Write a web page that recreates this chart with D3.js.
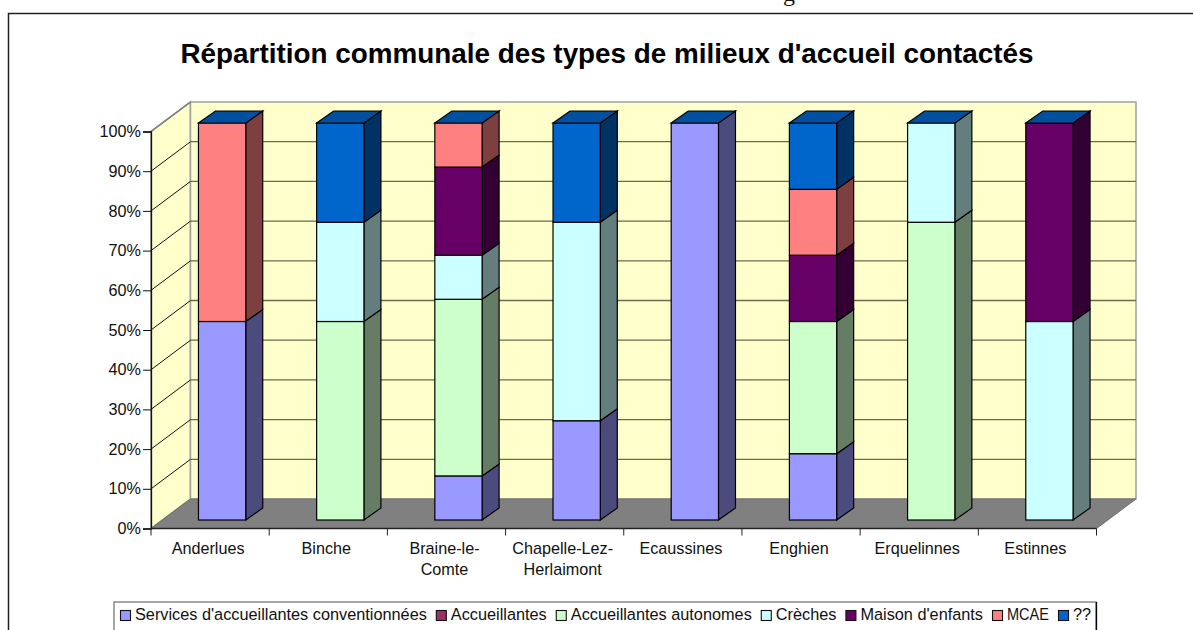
<!DOCTYPE html>
<html>
<head>
<meta charset="utf-8">
<script src="https://cdn.jsdelivr.net/npm/d3@7"></script>
<style>
  html, body { margin: 0; padding: 0; background: #fff; overflow: hidden; }
  text { font-family: "Liberation Sans", Arial, sans-serif; fill: #111; }
</style>
</head>
<body>
<div id="chart"></div>
<script>
var communes = ["Anderlues", "Binche", "Braine-le-Comte", "Chapelle-Lez-Herlaimont", "Ecaussines", "Enghien", "Erquelinnes", "Estinnes"];
var labelLines = [["Anderlues"], ["Binche"], ["Braine-le-", "Comte"], ["Chapelle-Lez-", "Herlaimont"], ["Ecaussines"], ["Enghien"], ["Erquelinnes"], ["Estinnes"]];

var seriesNames = ["Services d'accueillantes conventionnées", "Accueillantes", "Accueillantes autonomes", "Crèches", "Maison d'enfants", "MCAE", "??"];
var seriesColors = ["#9999FF", "#993366", "#CCFFCC", "#CCFFFF", "#660066", "#FF8080", "#0066CC"];

// percentages, same order as communes
var services     = [50, 0, 11.1, 25, 100, 16.7, 0, 0];
var accueillantes = [0, 0, 0, 0, 0, 0, 0, 0];
var autonomes    = [0, 50, 44.5, 0, 0, 33.3, 75, 0];
var creches      = [0, 25, 11.1, 50, 0, 0, 25, 50];
var maison       = [0, 0, 22.2, 0, 0, 16.7, 0, 50];
var mcae         = [50, 0, 11.1, 0, 0, 16.6, 0, 0];
var inconnu      = [0, 25, 0, 25, 0, 16.7, 0, 0];

var yTicks = [0, 10, 20, 30, 40, 50, 60, 70, 80, 90, 100];

var W = 1193, H = 630;
var allSeries = [services, accueillantes, autonomes, creches, maison, mcae, inconnu];

var table = communes.map(function (c, i) {
    var row = { commune: c };
    seriesNames.forEach(function (s, j) { row[s] = allSeries[j][i]; });
    return row;
});

var svg = d3.select("#chart").append("svg").attr("width", W).attr("height", H);

// frame of the pasted chart, its right and bottom side are cut off
svg.append("path")
    .attr("d", "M8.5," + H + "V13.5H" + W)
    .attr("fill", "none").attr("stroke", "#222").attr("stroke-width", 1.5);

// bit of page text cut off above the chart
svg.append("text").attr("x", 783).attr("y", 1)
    .style("font-family", "'Liberation Serif', serif").style("font-size", "24px")
    .text("g");

svg.append("text")
    .attr("x", 607).attr("y", 63).attr("text-anchor", "middle")
    .style("font-size", "27.85px").style("font-weight", "bold").style("fill", "#000")
    .text("Répartition communale des types de milieux d'accueil contactés");

// scales
var x0 = 151, x1 = 1096.5;
var depthX = 39.5, depthY = 29.5;
var x = d3.scaleBand().domain(communes).range([x0, x1]);
var y = d3.scaleLinear().domain([0, 100]).range([528.5, 131.5]);

// front faces stand a bit inside the depth of the floor
var barX = d3.scaleBand().domain(communes).range([x0 + 12, x1 + 12])
    .paddingInner(0.6).paddingOuter(0.3);
var barDy = 8.5;
var sideX = 17, sideY = 12;

// walls
var line = d3.line();
svg.append("path")
    .attr("d", line([[x0, y(0)], [x0, y(100)], [x0 + depthX, y(100) - depthY], [x0 + depthX, y(0) - depthY]]) + "Z")
    .attr("fill", "#FFFFCC").attr("stroke", "#808080").attr("stroke-width", 1.5);
svg.append("path")
    .attr("d", line([[x0 + depthX, y(0) - depthY], [x0 + depthX, y(100) - depthY], [x1 + depthX, y(100) - depthY], [x1 + depthX, y(0) - depthY]]) + "Z")
    .attr("fill", "#FFFFCC").attr("stroke", "#A0A0A0").attr("stroke-width", 1.5);
svg.append("path")
    .attr("d", line([[x0, y(0)], [x0 + depthX, y(0) - depthY], [x1 + depthX, y(0) - depthY], [x1, y(0)]]) + "Z")
    .attr("fill", "#808080").attr("stroke", "#707070");

// gridlines
var gridTicks = yTicks.filter(function (t) { return t > 0 && t < 100; });
svg.append("g").selectAll("line").data(gridTicks).enter().append("line")
    .attr("x1", x0 + depthX).attr("x2", x1 + depthX)
    .attr("y1", function (d) { return y(d) - depthY; })
    .attr("y2", function (d) { return y(d) - depthY; })
    .attr("stroke", "#6b6b50").attr("stroke-width", 1.3);
svg.append("g").selectAll("line").data(gridTicks.concat([100])).enter().append("line")
    .attr("x1", x0).attr("x2", x0 + depthX)
    .attr("y1", function (d) { return y(d); })
    .attr("y2", function (d) { return y(d) - depthY; })
    .attr("stroke", function (d) { return d === 100 ? "#808080" : "#111"; })
    .attr("stroke-width", function (d) { return d === 100 ? 1.5 : 1; });

// bars
var stacked = d3.stack().keys(seriesNames)(table);
var barsG = svg.append("g");

communes.forEach(function (c, i) {
    var g = barsG.append("g");
    var left = barX(c), right = left + barX.bandwidth();
    var topValue = 0;
    stacked.forEach(function (layer, j) {
        var d = layer[i];
        if (d[1] - d[0] <= 0) return;
        topValue = d[1];
        var yb = y(d[0]) - barDy, yt = y(d[1]) - barDy;
        var col = d3.color(seriesColors[j]);
        // side
        g.append("path")
            .attr("d", line([[right, yb], [right + sideX, yb - sideY], [right + sideX, yt - sideY], [right, yt]]) + "Z")
            .attr("fill", col.darker(2).formatHex()).attr("stroke", "#000").attr("stroke-width", 1.2);
        // front
        g.append("rect")
            .attr("x", left).attr("y", yt)
            .attr("width", right - left).attr("height", yb - yt)
            .attr("fill", seriesColors[j]).attr("stroke", "#000").attr("stroke-width", 1.2);
    });
    // lid of the column, always same blue in the reference
    var yTop = y(topValue) - barDy;
    g.append("path")
        .attr("d", line([[left, yTop], [left + sideX, yTop - sideY], [right + sideX, yTop - sideY], [right, yTop]]) + "Z")
        .attr("fill", "#00509F").attr("stroke", "#000").attr("stroke-width", 1.2);
});

// axes
var yAxis = d3.axisLeft(y).tickValues(yTicks).tickSize(8).tickPadding(2)
    .tickFormat(function (d) { return d + "%"; });
var yg = svg.append("g").attr("transform", "translate(" + x0 + ",0)").call(yAxis);
yg.select(".domain").attr("stroke", "#111").attr("stroke-width", 1.3);
yg.selectAll(".tick line").attr("stroke", "#111");
yg.selectAll("text").style("font-size", "16.2px").style("font-family", "'Liberation Sans', Arial, sans-serif").attr("fill", "#111");

svg.append("line").attr("x1", x0).attr("x2", x1).attr("y1", y(0)).attr("y2", y(0))
    .attr("stroke", "#222").attr("stroke-width", 1.5);
svg.append("g").selectAll("line").data(d3.range(communes.length + 1)).enter().append("line")
    .attr("x1", function (d) { return x0 + d * x.step(); })
    .attr("x2", function (d) { return x0 + d * x.step(); })
    .attr("y1", y(0)).attr("y2", y(0) + 7)
    .attr("stroke", "#222");

var catLabels = svg.append("g").selectAll("text").data(communes).enter().append("text")
    .attr("text-anchor", "middle")
    .attr("y", 554)
    .style("font-size", "16.2px");
catLabels.each(function (c, i) {
    var t = d3.select(this);
    labelLines[i].forEach(function (l, k) {
        t.append("tspan").attr("x", x(c) + x.bandwidth() / 2 - 2).attr("y", 554 + k * 21).text(l);
    });
});

// legend
var legendG = svg.append("g");
legendG.append("rect").attr("x", 114).attr("y", 602).attr("width", 982).attr("height", 40)
    .attr("fill", "#fff").attr("stroke", "#777").attr("stroke-width", 1.3);
legendG.append("line").attr("x1", 1096.5).attr("x2", 1096.5).attr("y1", 602).attr("y2", H)
    .attr("stroke", "#000").attr("stroke-width", 1.3);
var lx = 120;
seriesNames.forEach(function (s, j) {
    legendG.append("rect").attr("x", lx + 0.5).attr("y", 610.5).attr("width", 10).attr("height", 10)
        .attr("fill", seriesColors[j]).attr("stroke", "#111").attr("stroke-width", 1.1);
    var t = legendG.append("text").attr("x", lx + 15).attr("y", 620)
        .style("font-size", "16.3px").text(s);
    // MCAE is narrower in the reference, squeeze it a little
    if (s === "MCAE") t.attr("textLength", 42).attr("lengthAdjust", "spacingAndGlyphs");
    var w = s === "MCAE" ? 42 : t.node().getComputedTextLength();
    lx += 15 + w + 9;
});
</script>
</body>
</html>
